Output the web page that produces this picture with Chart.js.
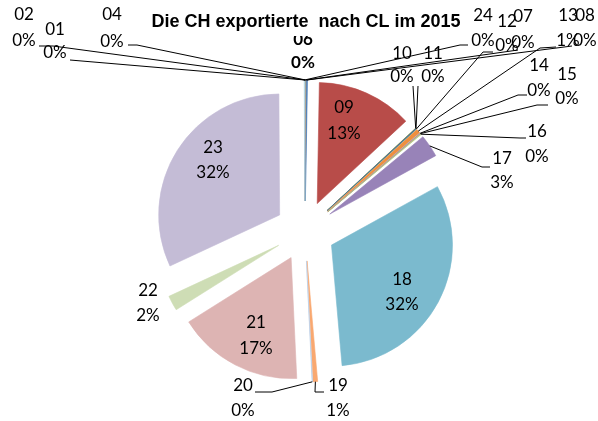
<!DOCTYPE html>
<html><head><meta charset="utf-8">
<script src="https://cdn.jsdelivr.net/npm/chart.js@4.4.1/dist/chart.umd.min.js"></script>
<style>html,body{margin:0;padding:0;background:#fff}canvas{display:block}</style>
</head><body>
<canvas id="c" width="598" height="421"></canvas>
<script>
const chartTitle = 'Die CH exportierte  nach CL im 2015';
const categories = ['01','02','04','06','07','08','09','10','11','12','13','14','15','16','17','18','19','20','21','22','23','24'];
const shares = [0.02,0.02,0.03,0.03,0.03,0.15,12.78,0.05,0.05,0.05,0.55,0.05,0.05,0.1,3.0,31.6,0.6,0.05,16.8,2.0,31.8,0.1];
const sliceColors = ['#4F81BD','#C0504D','#8064A2','#4BACC6','#F79646','#4A7EBB','#B84C49','#7E9A46','#65507F','#3A8CA1','#EE8F3F','#7E9FCC','#CF7C79','#AFC97F','#9883B8','#7BBACE','#F9A870','#B9CDE5','#DDB4B3','#CEDDB5','#C4BCD6','#B7DDE8'];

// label placement (text centres and leader line bends), keyed by category
const labelLayout = {
  '01': {x:55,  y1:30,  y2:53,  line:[[70,60]]},
  '02': {x:24,  y1:15,  y2:41,  line:[[53,46],[39,46]]},
  '04': {x:112, y1:15,  y2:42,  line:[[137,45],[128,45]]},
  '06': {x:303, y1:40,  y2:63,  bold:true},
  '07': {x:523, y1:17,  y2:43,  line:[[518,50]]},
  '08': {x:585, y1:16,  y2:41,  line:[[572,46]]},
  '09': {x:344, y1:108, y2:134},
  '10': {x:402, y1:54,  y2:77,  line:[[413,86]]},
  '11': {x:433, y1:54,  y2:77,  line:[[418,86]]},
  '12': {x:507, y1:22,  y2:46,  line:[[483,52],[493,52]]},
  '13': {x:568, y1:16,  y2:41,  line:[[540,48],[556,47]]},
  '14': {x:539, y1:66,  y2:91,  line:[[518,95],[527,95]]},
  '15': {x:567, y1:75,  y2:99,  line:[[537,105],[548,105]]},
  '16': {x:537, y1:132, y2:157, line:[[520,138],[526,138]]},
  '17': {x:502, y1:159, y2:183, line:[[482,167],[490,167]]},
  '18': {x:402, y1:280, y2:305},
  '19': {x:338, y1:386, y2:411, line:[[315,392],[324,392]]},
  '20': {x:243, y1:386, y2:411, line:[[272,392],[255,392]]},
  '21': {x:256, y1:323, y2:349},
  '22': {x:148, y1:291, y2:316},
  '23': {x:213, y1:148, y2:173},
  '24': {x:483, y1:16,  y2:41,  line:[[460,45],[468,45]]}
};

const total = shares.reduce((a,b)=>a+b,0);
const explode = 30; // pixel distance every slice is pulled out of the pie

// pull each slice out along its bisector (like Excel's point explosion)
const explodePlugin = {
  id: 'explode',
  afterDatasetsUpdate(chart) {
    chart.getDatasetMeta(0).data.forEach(arc => {
      const mid = (arc.startAngle + arc.endAngle) / 2;
      arc.x += Math.cos(mid) * explode;
      arc.y += Math.sin(mid) * explode;
    });
  }
};

const labelPlugin = {
  id: 'excelLabels',
  afterDatasetsDraw(chart) {
    const ctx = chart.ctx;
    const meta = chart.getDatasetMeta(0);
    ctx.save();
    ctx.strokeStyle = '#000';
    ctx.lineWidth = 1;
    meta.data.forEach((arc, i) => {
      const lay = labelLayout[categories[i]];
      if (!lay || !lay.line) return;
      const mid = (arc.startAngle + arc.endAngle) / 2;
      const sx = arc.x + Math.cos(mid) * arc.outerRadius;
      const sy = arc.y + Math.sin(mid) * arc.outerRadius;
      ctx.beginPath();
      ctx.moveTo(sx, sy);
      lay.line.forEach(p => ctx.lineTo(p[0], p[1]));
      ctx.stroke();
    });
    ctx.fillStyle = '#000';
    ctx.textAlign = 'center';
    ctx.textBaseline = 'middle';
    meta.data.forEach((arc, i) => {
      const lay = labelLayout[categories[i]];
      if (!lay) return;
      ctx.font = (lay.bold ? 'bold ' : '') + '17px Lato, "Open Sans", sans-serif';
      const pct = Math.round(shares[i] / total * 100) + '%';
      ctx.fillText(categories[i], lay.x, lay.y1);
      ctx.fillText(pct, lay.x, lay.y2);
    });
    // title; its white box hides the top of the label below it, as in the original
    ctx.fillStyle = '#fff';
    ctx.fillRect(145, 0, 322, 36);
    ctx.fillStyle = '#000';
    ctx.font = 'bold 18px "Liberation Sans", Arial, sans-serif';
    ctx.textBaseline = 'alphabetic';
    ctx.fillText(chartTitle, 306, 27);
    ctx.restore();
  }
};

new Chart(document.getElementById('c'), {
  type: 'pie',
  data: {
    labels: categories,
    datasets: [{
      data: shares,
      backgroundColor: sliceColors,
      borderColor: sliceColors,
      borderWidth: 0.6,
      offset: 0,
      hoverOffset: 0
    }]
  },
  options: {
    responsive: false,
    animation: false,
    events: [],
    devicePixelRatio: 1,
    radius: 121,
    layout: {padding: {left: 12, right: 0, top: 41, bottom: 0}},
    plugins: {legend: {display: false}, title: {display: false}, tooltip: {enabled: false}}
  },
  plugins: [explodePlugin, labelPlugin]
});
</script>
</body></html>
